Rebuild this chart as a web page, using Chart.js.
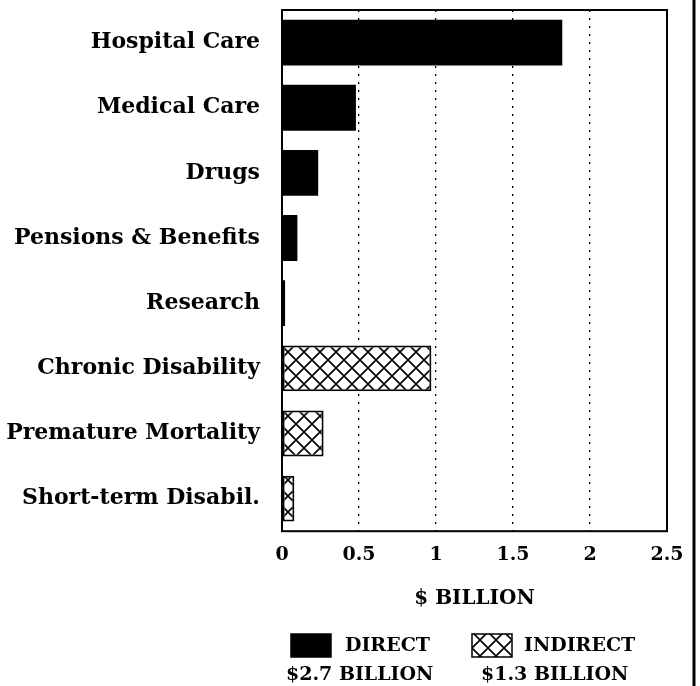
<!DOCTYPE html>
<html>
<head>
<meta charset="utf-8">
<script src="https://cdn.jsdelivr.net/npm/chart.js@4"></script>
<style>
  html, body { margin: 0; padding: 0; background: #fff; }
  #wrap { width: 700px; height: 686px; position: relative; }
</style>
</head>
<body>
<div id="wrap"><canvas id="chart" width="700" height="686"></canvas></div>
<script>
// Cost categories, top to bottom
const categories = [
  "Hospital Care", "Medical Care", "Drugs", "Pensions & Benefits",
  "Research", "Chronic Disability", "Premature Mortality", "Short-term Disabil."
];
// $ billion
const directValues   = [1.82, 0.48, 0.235, 0.10, 0.02, null, null, null];
const indirectValues = [null, null, null, null, null, 0.97, 0.27, 0.08];
const xTicks = [0, 0.5, 1, 1.5, 2, 2.5];
const legendLines = {
  direct:   ["DIRECT", "$2.7 BILLION"],
  indirect: ["INDIRECT", "$1.3 BILLION"],
};

const SERIF = "'DejaVu Serif', serif";

// cross-hatch fill used for the indirect bars
function makeHatch() {
  const c = document.createElement("canvas");
  c.width = 16; c.height = 16;
  const g = c.getContext("2d");
  g.fillStyle = "#fff";
  g.fillRect(0, 0, 16, 16);
  g.strokeStyle = "#000";
  g.lineWidth = 1.6;
  g.beginPath();
  g.moveTo(-2, -2); g.lineTo(18, 18);
  g.moveTo(-2, 18); g.lineTo(18, -2);
  g.stroke();
  return g.createPattern(c, "repeat");
}
const ctx = document.getElementById("chart").getContext("2d");
const hatch = makeHatch();

// frame round the plot + the page edge rule on the right
const framePlugin = {
  id: "frame",
  afterDatasetsDraw(chart) {
    const { ctx, chartArea: a } = chart;
    ctx.save();
    ctx.strokeStyle = "#000";
    ctx.lineWidth = 2;
    ctx.strokeRect(a.left, a.top, a.right - a.left, a.bottom - a.top);
    ctx.lineWidth = 3;
    ctx.beginPath();
    ctx.moveTo(694, 0); ctx.lineTo(694, 686);
    ctx.stroke();
    ctx.restore();
  }
};

// two-line legend under the axis title
const legendPlugin = {
  id: "twoLineLegend",
  afterDraw(chart) {
    const c = chart.ctx;
    const items = [
      { fill: "#000", lines: legendLines.direct, box: [291, 634], textX: 345, line2X: 286 },
      { fill: hatch, lines: legendLines.indirect, box: [472, 634], textX: 524, line2X: 481 },
    ];
    c.save();
    c.font = "bold 19px " + SERIF;
    c.textBaseline = "middle";
    items.forEach(it => {
      c.fillStyle = it.fill;
      c.fillRect(it.box[0], it.box[1], 40, 23);
      c.strokeStyle = "#000";
      c.lineWidth = 1.5;
      c.strokeRect(it.box[0], it.box[1], 40, 23);
      c.fillStyle = "#000";
      c.textAlign = "left";
      c.fillText(it.lines[0], it.textX, it.box[1] + 12);
      c.fillText(it.lines[1], it.line2X, it.box[1] + 41);
    });
    c.restore();
  }
};

// drop the half-label padding Chart.js adds so the plot edges land where the original has them
function noEdgePad(scale) {
  scale.paddingTop = 0;
  scale.paddingBottom = 0;
  scale.paddingLeft = 0;
  scale.paddingRight = 0;
}

new Chart(ctx, {
  type: "bar",
  data: {
    labels: categories,
    datasets: [
      {
        label: "DIRECT",
        data: directValues,
        backgroundColor: "#000",
        borderColor: "#000",
        borderWidth: 0,
        barPercentage: 0.88,
        categoryPercentage: 0.8,
      },
      {
        label: "INDIRECT",
        data: indirectValues,
        backgroundColor: hatch,
        borderColor: "#000",
        borderWidth: 2,
        borderSkipped: false,
        barPercentage: 0.88,
        categoryPercentage: 0.8,
      },
    ],
  },
  options: {
    indexAxis: "y",
    responsive: false,
    animation: false,
    layout: { padding: { top: 10, right: 33, bottom: 75, left: 0 } },
    plugins: {
      legend: { display: false },
      tooltip: { enabled: false },
    },
    scales: {
      x: {
        min: 0,
        max: 2.5,
        afterBuildTicks: (axis) => { axis.ticks = xTicks.map(v => ({ value: v })); },
        afterFit: noEdgePad,
        ticks: {
          color: "#000",
          font: { family: SERIF, size: 19, weight: "bold" },
          padding: 12,
          callback: (v) => String(v),
        },
        grid: {
          color: (c) => (c.tick && c.tick.value > 0 && c.tick.value < 2.5) ? "#000" : "rgba(0,0,0,0)",
          lineWidth: 1.3,
          tickLength: 0,
        },
        border: { display: false, dash: [2, 6] },
        title: {
          display: true,
          text: "$ BILLION",
          color: "#000",
          font: { family: SERIF, size: 20, weight: "bold" },
          padding: { top: 9, bottom: 0 },
        },
      },
      y: {
        stacked: true,
        afterFit: (scale) => { noEdgePad(scale); scale.width = 282; },
        ticks: {
          color: "#000",
          font: { family: SERIF, size: 22, weight: "bold" },
          padding: 14,
        },
        grid: { display: false },
        border: { display: false },
      },
    },
  },
  plugins: [framePlugin, legendPlugin],
});
</script>
</body>
</html>
